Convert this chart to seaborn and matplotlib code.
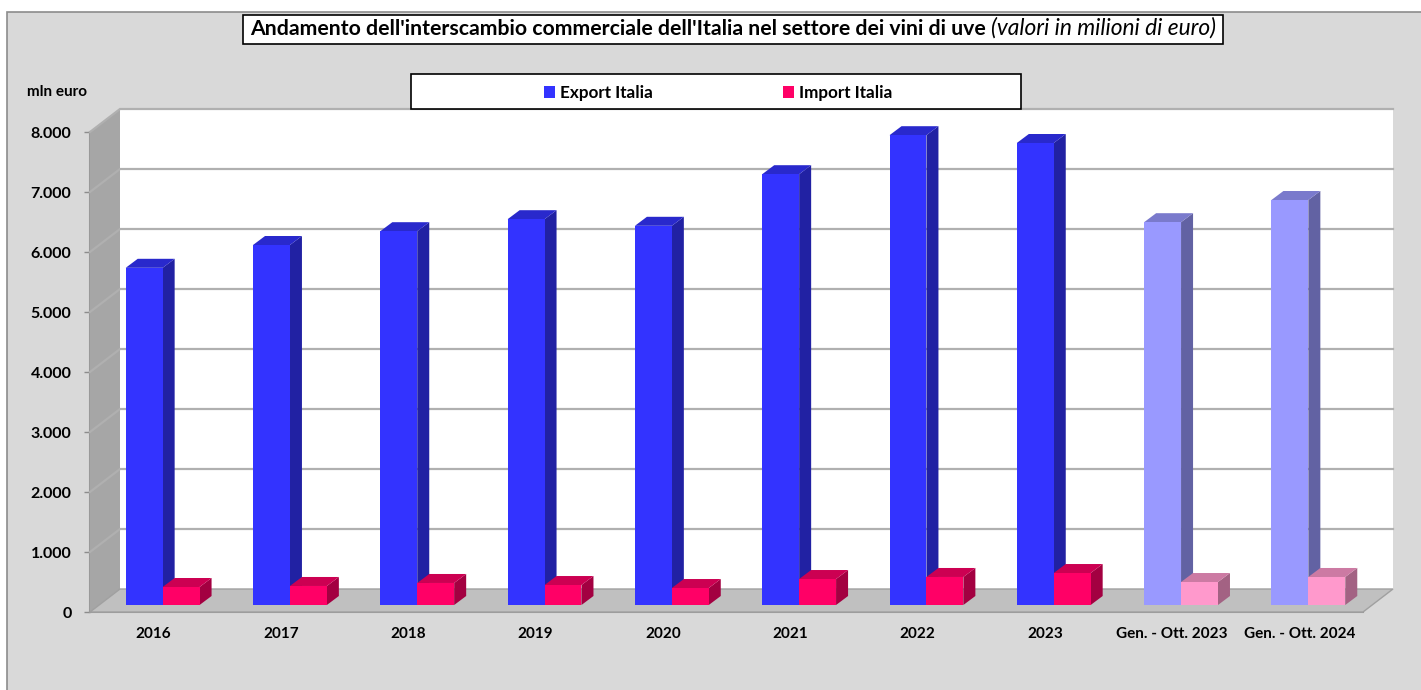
import numpy as np
import pandas as pd
import matplotlib
matplotlib.use("Agg")
import matplotlib.pyplot as plt
from matplotlib.patches import Polygon, Rectangle
import matplotlib.colors as mcolors
import seaborn as sns

# data (milioni di euro)
periodi = ["2016", "2017", "2018", "2019", "2020", "2021", "2022", "2023",
           "Gen. - Ott. 2023", "Gen. - Ott. 2024"]
export_italia = [5620, 6000, 6230, 6430, 6320, 7180, 7830, 7700, 6380, 6750]
import_italia = [300, 317, 367, 333, 283, 433, 467, 533, 383, 467]
serie = ["Export Italia", "Import Italia"]
parziali = ["Gen. - Ott. 2023", "Gen. - Ott. 2024"]
yticks = [0, 1000, 2000, 3000, 4000, 5000, 6000, 7000, 8000]

colori = {"Export Italia": "#3333FF", "Import Italia": "#FF0066"}
colori_parz = {"Export Italia": "#9999FF", "Import Italia": "#FF99CC"}

df = pd.DataFrame({
    "periodo": periodi * 2,
    "valore": export_italia + import_italia,
    "serie": [serie[0]] * len(periodi) + [serie[1]] * len(periodi),
})

W, H = 1421, 690
plt.rcParams["font.family"] = ["Lato", "DejaVu Sans"]
plt.rcParams["font.weight"] = "bold"
fig = plt.figure(figsize=(W / 100, H / 100), dpi=100, facecolor="white")

# chart area background
fig.add_artist(Rectangle((7 / W, -0.05), 1.2, (H - 12) / H + 0.05, transform=fig.transFigure,
                         fc="#d9d9d9", ec="#8c8c8c", lw=1.2, zorder=-10))

# bar plane axes and front plane axes (ticks)
L, R, B, T = 99, 1372, 605, 125
ax = fig.add_axes([L / W, (H - B) / H, (R - L) / W, (B - T) / H])
ax_f = fig.add_axes([(L - 9) / W, (H - B - 7) / H, (R - L) / W, (B - T) / H], zorder=-1)
ymax = 8000
xlo, xhi = -0.5, len(periodi) - 0.5
sx = (R - L) / (xhi - xlo)
sy = (B - T) / ymax

def off(px, py):
    return px / sx, py / sy

sns.barplot(data=df, x="periodo", y="valore", hue="serie", palette=colori,
            width=0.58, gap=0, saturation=1, linewidth=0, ax=ax, zorder=3)
ax.set_xlim(xlo, xhi)
ax.set_ylim(0, ymax)
ax.set_axis_off()

bars = [p for p in ax.patches if p.get_height() > 0]

# walls
bx, by = off(21, 16)
fx, fy = off(-9, -7)
ax.add_patch(Rectangle((xlo + bx, by), xhi - xlo, ymax, fc="white", ec="none", zorder=0.5, clip_on=False))
ax.add_patch(Polygon([(xlo + fx, fy), (xhi + fx, fy), (xhi + bx, by), (xlo + bx, by)],
                     fc="#c0c0c0", ec="#a0a0a0", lw=1, zorder=1.5, clip_on=False))
ax.add_patch(Polygon([(xlo + fx, fy), (xlo + fx, ymax + fy), (xlo + bx, ymax + by), (xlo + bx, by)],
                     fc="#a6a6a6", ec="none", zorder=0.6, clip_on=False))
for v in yticks[1:]:
    ax.plot([xlo + fx, xlo + bx, xhi + bx], [v + fy, v + by, v + by], color="#b0b0b0",
            lw=1.6, zorder=1, clip_on=False, solid_joinstyle="miter")

# 3D faces for each bar
dx, dy = off(12, 9)
for p in bars:
    x0, w, h = p.get_x(), p.get_width(), p.get_height()
    i = int(round(x0 + w / 2))
    nome = serie[0] if x0 + w / 2 < i else serie[1]
    base = colori_parz[nome] if periodi[i] in parziali else colori[nome]
    rgb = np.array(mcolors.to_rgb(base))
    p.set_facecolor(base)
    p.set_zorder(3)
    z = 2.8 if nome == serie[0] else 2.9
    ax.add_patch(Polygon([(x0 + w, 0), (x0 + w, h), (x0 + w + dx, h + dy), (x0 + w + dx, dy)],
                         fc=rgb * 0.64, ec="none", zorder=z, clip_on=False))
    ax.add_patch(Polygon([(x0, h), (x0 + dx, h + dy), (x0 + w + dx, h + dy), (x0 + w, h)],
                         fc=rgb * 0.8, ec="none", zorder=z, clip_on=False))

# front plane ticks
ax_f.set_facecolor("none")
ax_f.set_xlim(xlo, xhi)
ax_f.set_ylim(0, ymax)
ax_f.set_xticks(range(len(periodi)))
ax_f.set_xticklabels(periodi, fontsize=11, fontweight="bold")
ax_f.set_yticks(yticks)
ax_f.set_yticklabels([f"{v:,}".replace(",", ".") for v in yticks], fontsize=11.5, fontweight="bold")
ax_f.tick_params(axis="y", length=4, width=1, color="#8c8c8c", pad=9.4)
ax_f.tick_params(axis="x", length=0, pad=11)
for s in ["top", "right"]:
    ax_f.spines[s].set_visible(False)
for s in ["left", "bottom"]:
    ax_f.spines[s].set_color("#999999")
    ax_f.spines[s].set_linewidth(1.5)

# legend (moved to figure level, inside its own box)
leg = ax.get_legend()
handles = leg.legend_handles
labels = [t.get_text() for t in leg.get_texts()]
leg.remove()
fig.add_artist(Rectangle((411 / W, (H - 109) / H), 610 / W, 35 / H, transform=fig.transFigure,
                         fc="white", ec="black", lw=1.2, zorder=5))
fleg = fig.legend(handles, labels, loc="center", bbox_to_anchor=(718 / W, (H - 93) / H),
                  ncol=2, frameon=False, prop={"size": 12.3, "weight": "bold"}, columnspacing=7.6,
                  handlelength=0.65, handleheight=0.65, handletextpad=0.3)
fleg.set_zorder(6)

fig.text(27 / W, (H - 92) / H, "mln euro", fontsize=11, fontweight="bold", va="center", ha="left")

# title
t1 = fig.text(250 / W, (H - 35) / H,
              "Andamento dell'interscambio commerciale dell'Italia nel settore dei vini di uve ",
              fontsize=15.3, fontweight="bold", va="baseline", ha="left", zorder=8)
t2 = fig.text(0, 0, "(valori in milioni di euro)", fontsize=16.4, fontweight="normal",
              fontstyle="italic", va="baseline", ha="left", zorder=8)
fig.canvas.draw()
r = fig.canvas.get_renderer()
b1 = t1.get_window_extent(r)
t2.set_position((b1.x1 / W, t1.get_position()[1]))
fig.canvas.draw()
b2 = t2.get_window_extent(r)
fig.add_artist(Rectangle((243 / W, (H - 44) / H), (b2.x1 + 7 - 243) / W, 29 / H,
                         transform=fig.transFigure, fc="white", ec="black", lw=1.2, zorder=7))

fig.savefig("out.png", dpi=100, facecolor="white")
